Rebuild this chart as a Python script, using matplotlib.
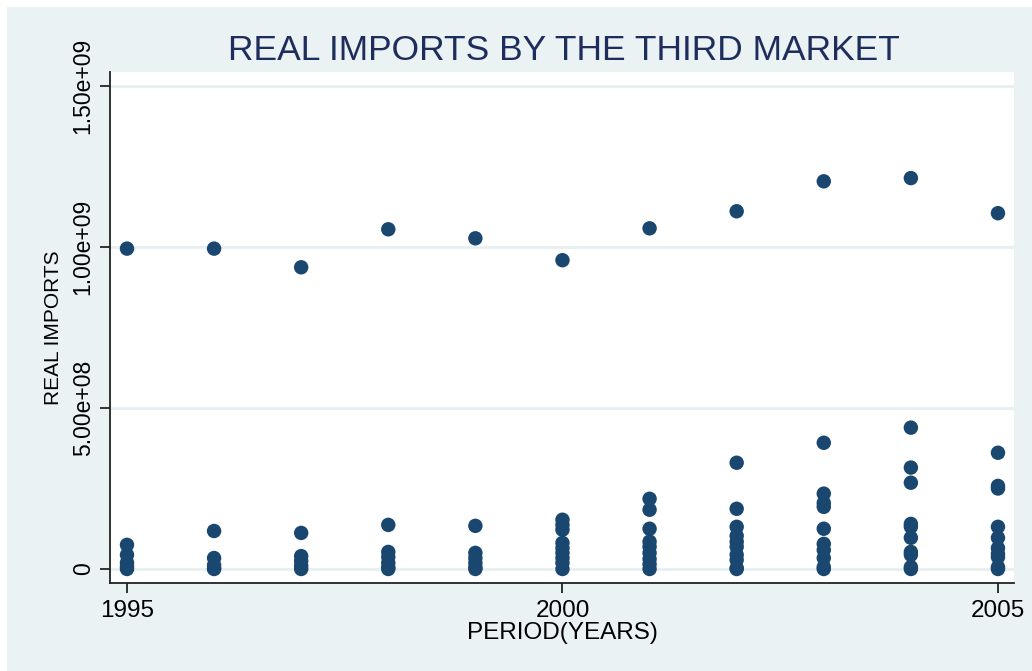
import matplotlib
matplotlib.use("Agg")
import matplotlib.pyplot as plt
from matplotlib.patches import Rectangle

plt.rcParams["font.family"] = ["Liberation Sans", "DejaVu Sans"]

years = [1995, 1996, 1997, 1998, 1999, 2000, 2001, 2002, 2003, 2004, 2005]

# largest partner each year
top_partner = [9.95e8, 9.95e8, 9.37e8, 10.55e8, 10.27e8, 9.59e8,
               10.58e8, 11.11e8, 12.04e8, 12.14e8, 11.05e8]

# remaining partners (units: 1e8)
rest_1995 = [0.75, 0.44, 0.20, 0.08, 0.0]
rest_1996 = [1.18, 0.34, 0.12, 0.02, 0.0]
rest_1997 = [1.12, 0.40, 0.25, 0.10, 0.0]
rest_1998 = [1.37, 0.53, 0.37, 0.19, 0.05, 0.0]
rest_1999 = [1.34, 0.50, 0.34, 0.19, 0.05, 0.0]
rest_2000 = [1.53, 1.37, 1.22, 0.81, 0.65, 0.50, 0.34, 0.19, 0.0]
rest_2001 = [2.18, 1.84, 1.25, 0.85, 0.69, 0.50, 0.31, 0.15, 0.0]
rest_2002 = [3.30, 1.87, 1.31, 1.03, 0.85, 0.69, 0.44, 0.28, 0.03, 0.0]
rest_2003 = [3.92, 2.34, 2.05, 1.93, 1.25, 0.78, 0.59, 0.34, 0.06, 0.0]
rest_2004 = [4.39, 3.15, 2.68, 1.40, 1.31, 0.97, 0.53, 0.44, 0.06, 0.0]
rest_2005 = [3.61, 2.58, 2.50, 1.31, 0.97, 0.65, 0.47, 0.37, 0.06, 0.0]

rest = [rest_1995, rest_1996, rest_1997, rest_1998, rest_1999, rest_2000,
        rest_2001, rest_2002, rest_2003, rest_2004, rest_2005]

xs, ys = [], []
for yr, top, others in zip(years, top_partner, rest):
    xs.append(yr)
    ys.append(top)
    for v in others:
        xs.append(yr)
        ys.append(v * 1e8)

bg = "#EAF2F3"
navy = "#1A476F"

fig = plt.figure(figsize=(10.32, 6.71), dpi=100, facecolor="white")
fig.patches.append(Rectangle((7 / 1032, 0), 1, 1 - 7 / 671,
                             transform=fig.transFigure, facecolor=bg,
                             edgecolor="none", zorder=-10))

ax = fig.add_axes([110 / 1032, (671 - 583) / 671,
                   (1014 - 110) / 1032, (583 - 72) / 671])
ax.set_facecolor("white")

ax.scatter(xs, ys, s=108, color=navy, edgecolors="none", zorder=3,
           clip_on=False)

ax.set_xlim(1994.805, 2005.184)
ax.set_ylim(-0.0435e9, 1.5435e9)

yticks = [0, 5e8, 1e9, 1.5e9]
ax.set_yticks(yticks)
ax.set_yticklabels(["0", "5.00e+08", "1.00e+09", "1.50e+09"],
                   rotation=90, va="center", fontsize=16.5)
ax.set_xticks([1995, 2000, 2005])
ax.set_xticklabels(["1995", "2000", "2005"], fontsize=17.5)

for t in yticks:
    ax.axhline(t, color="#E6EFF1", lw=2, zorder=1)

for side in ["top", "right"]:
    ax.spines[side].set_visible(False)
for side in ["left", "bottom"]:
    ax.spines[side].set_linewidth(1.3)
    ax.spines[side].set_color("#222222")

ax.tick_params(axis="y", length=7, width=1.1, pad=4)
ax.tick_params(axis="x", length=7, width=1.1, pad=5)

ax.set_ylabel("REAL IMPORTS", fontsize=15, labelpad=6)
ax.set_xlabel("PERIOD(YEARS)", fontsize=17.5, labelpad=0)

fig.text(564 / 1032, 1 - 50 / 671, "REAL IMPORTS BY THE THIRD MARKET",
         ha="center", va="center", fontsize=25.5, color="#1F2D5C")

fig.savefig("out.png", dpi=100, facecolor=fig.get_facecolor())
